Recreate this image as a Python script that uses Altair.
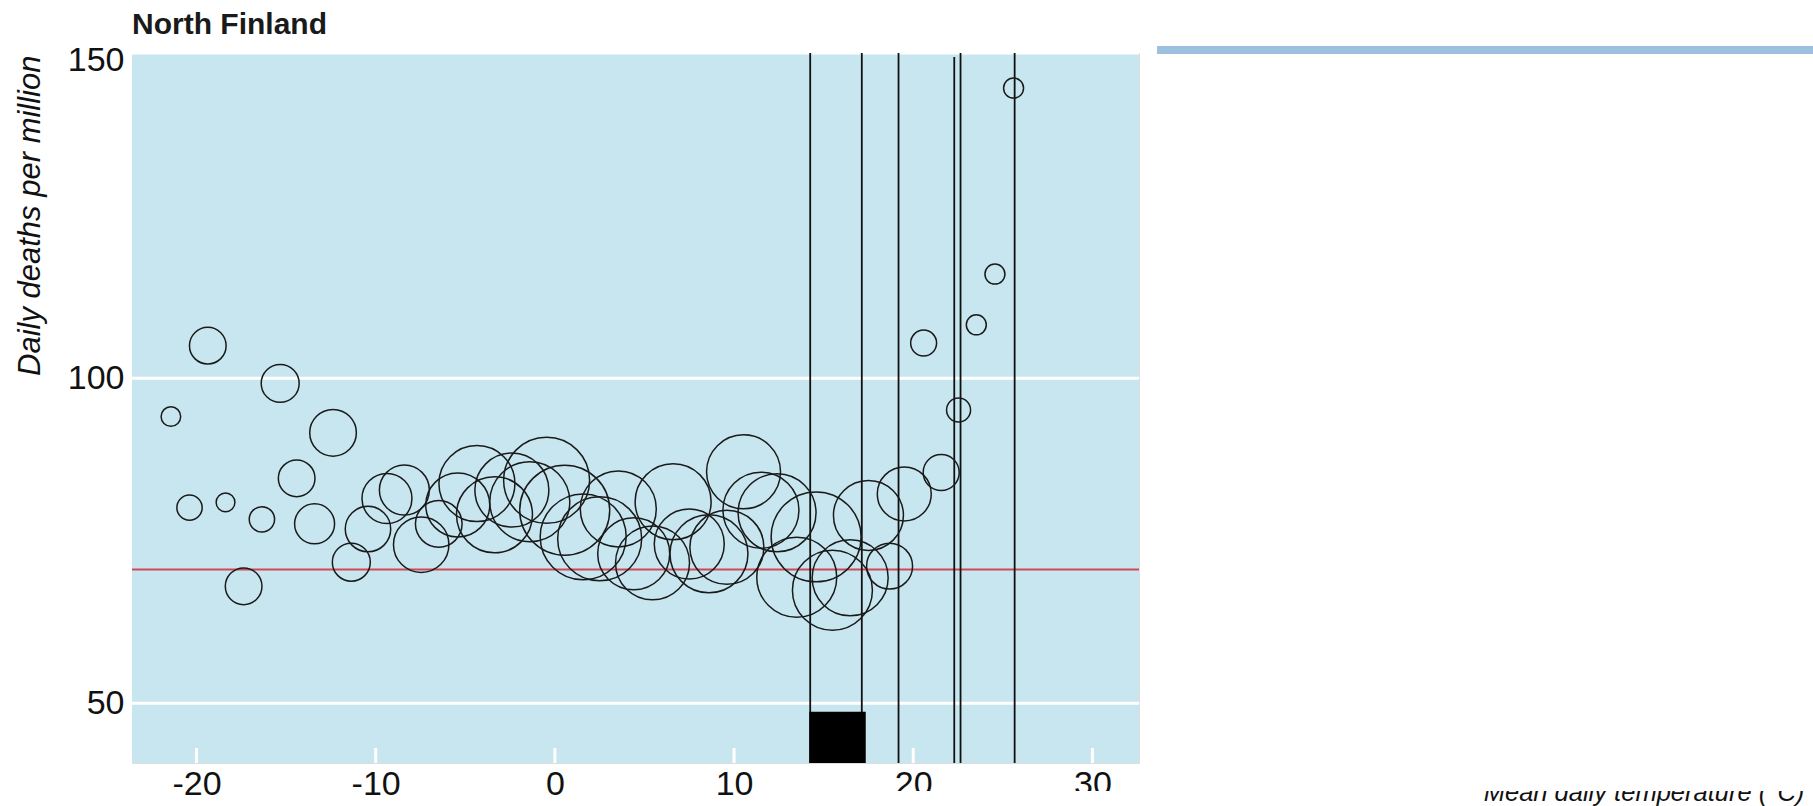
import altair as alt
import pandas as pd

# ---- data ----
temp = [-21.43, -20.39, -19.37, -18.38, -17.37, -16.35, -15.33, -14.41, -13.41, -12.38,
        -11.36, -10.43, -9.37, -8.40, -7.46, -6.48, -5.42, -4.35, -3.37, -2.40,
        -1.40, -0.46, 0.55, 1.58, 2.50, 3.54, 4.40, 5.45, 6.60, 7.50,
        8.60, 9.60, 10.53, 11.50, 12.40, 13.50, 14.58, 15.49, 16.48, 17.50,
        18.68, 19.50, 20.58, 21.56, 22.53, 23.52, 24.56, 25.60]
deaths = [94.1, 80.1, 105.0, 80.9, 68.0, 78.3, 99.2, 84.6, 77.6, 91.6,
          71.7, 76.8, 81.5, 82.8, 74.4, 77.6, 80.5, 83.8, 79.0, 82.8,
          81.0, 84.3, 79.7, 75.6, 75.3, 79.9, 73.0, 71.6, 81.0, 74.5,
          73.0, 74.0, 85.6, 79.7, 79.3, 69.4, 75.6, 67.4, 69.3, 78.9,
          71.1, 82.2, 105.4, 85.5, 95.1, 108.2, 116.0, 144.6]
days = [24, 40, 84, 22, 84, 40, 90, 84, 100, 136,
        90, 129, 156, 156, 192, 136, 256, 361, 361, 342,
        400, 462, 506, 462, 441, 361, 324, 342, 361, 306,
        380, 342, 342, 361, 380, 400, 506, 400, 361, 306,
        132, 182, 42, 81, 36, 25, 25, 25]

cut_x = [14.25, 17.13, 19.18, 22.29, 22.64, 25.66]
cut_top = [150, 150, 150, 149.4, 150, 150]
band_x = [14.2]
band_x2 = [17.35]
band_top = [48.7]
baseline_rate = [70.6]
x_ticks = [-20, -10, 0, 10, 20, 30]
y_ticks = [50, 100, 150]

XDOM = [-23.6, 32.6]
YDOM = [40.83, 150]

FONT = "Liberation Sans, Arial, Helvetica, sans-serif"

pts = pd.DataFrame({"temp": temp, "deaths": deaths, "days": days})
cuts = pd.DataFrame({"x": cut_x, "top": cut_top, "bottom": [YDOM[0]] * len(cut_x)})
band = pd.DataFrame({"x": band_x, "x2": band_x2, "y": [YDOM[0]], "y2": band_top})
red = pd.DataFrame({"y": baseline_rate})
grid = pd.DataFrame({"y": y_ticks})
panel = pd.DataFrame({"x": [XDOM[0]], "x2": [XDOM[1]], "y": [YDOM[0]], "y2": [YDOM[1]]})
ticks = pd.DataFrame({"x": x_ticks, "y": [YDOM[0]] * len(x_ticks),
                      "y2": [YDOM[0] + 2.3] * len(x_ticks)})

xs = alt.Scale(domain=XDOM, nice=False, zero=False)
ys = alt.Scale(domain=YDOM, nice=False, zero=False)

x_axis = alt.Axis(values=x_ticks, grid=False, ticks=False, domain=False,
                  labelFont=FONT, labelFontSize=34, labelColor="#111",
                  labelPadding=4, labelFlush=False, labelExpr="'' + datum.value",
                  title=None)
y_axis = alt.Axis(values=y_ticks, grid=False, ticks=False, domain=False,
                  labelFont=FONT, labelFontSize=34, labelColor="#111",
                  labelPadding=8, labelFlush=False,
                  labelOffset={"condition": {"test": "datum.value == 150", "value": 7}, "value": 0},
                  title="Daily deaths per million", titleFont=FONT, titleFontSize=31,
                  titleFontStyle="italic", titleFontWeight="normal", titleColor="#111",
                  titleAngle=270, titleAlign="right", titleBaseline="alphabetic",
                  titleX=-93, titleY=2)

bg = alt.Chart(panel).mark_rect(color="#C8E6F0").encode(
    x=alt.X("x:Q", scale=xs, axis=x_axis), x2="x2:Q",
    y=alt.Y("y:Q", scale=ys, axis=y_axis), y2="y2:Q")

grid_rules = alt.Chart(grid).mark_rule(color="white", strokeWidth=3).encode(
    y=alt.Y("y:Q", scale=ys))

tick_rules = alt.Chart(ticks).mark_rule(color="white", strokeWidth=3).encode(
    x=alt.X("x:Q", scale=xs), y=alt.Y("y:Q", scale=ys), y2="y2:Q")

red_rule = alt.Chart(red).mark_rule(color="#D04854", strokeWidth=2).encode(
    y=alt.Y("y:Q", scale=ys))

cut_rules = alt.Chart(cuts).mark_rule(color="#111", strokeWidth=1.8).encode(
    x=alt.X("x:Q", scale=xs), y=alt.Y("bottom:Q", scale=ys), y2="top:Q")

band_rect = alt.Chart(band).mark_rect(color="black").encode(
    x=alt.X("x:Q", scale=xs), x2="x2:Q", y=alt.Y("y:Q", scale=ys), y2="y2:Q")

circles = alt.Chart(pts).mark_point(shape="circle", filled=False, color="#1a1a1a",
                                    strokeWidth=1.5, opacity=1).encode(
    x=alt.X("temp:Q", scale=xs),
    y=alt.Y("deaths:Q", scale=ys),
    size=alt.Size("days:Q", scale=alt.Scale(type="linear", domain=[0, 600], range=[0, 9600], zero=True),
                  legend=None),
)

one = pd.DataFrame({"k": [0]})
blue_bar = alt.Chart(one).mark_rect(color="#9DBFE0").encode(
    x=alt.value(1025), x2=alt.value(1681), y=alt.value(-7), y2=alt.value(1))
white_strip = alt.Chart(one).mark_rect(color="white").encode(
    x=alt.value(658), x2=alt.value(1681), y=alt.value(738), y2=alt.value(760))
xtitle = alt.Chart(one).mark_text(text="Mean daily temperature (°C)", font=FONT,
                                  fontSize=25.5, fontStyle="italic", color="#111",
                                  align="center", baseline="alphabetic").encode(
    x=alt.value(1512), y=alt.value(748))
white_top = alt.Chart(one).mark_rect(color="white").encode(
    x=alt.value(1260), x2=alt.value(1681), y=alt.value(705), y2=alt.value(738))

chart = alt.layer(
    bg, grid_rules, tick_rules, red_rule, cut_rules, band_rect, circles,
    blue_bar, white_strip, xtitle, white_top
).properties(
    width=1007, height=710,
    title=alt.TitleParams("North Finland", anchor="start", frame="group", font=FONT,
                          fontSize=30, fontWeight="bold", color="#1a1a1a", offset=3),
    autosize=alt.AutoSizeParams(type="none"),
    padding={"left": 132, "top": 53, "right": 674, "bottom": 43},
).configure_view(stroke=None).configure(background="white")

chart.save("out.html", embed_options={"renderer": "svg", "actions": False})
